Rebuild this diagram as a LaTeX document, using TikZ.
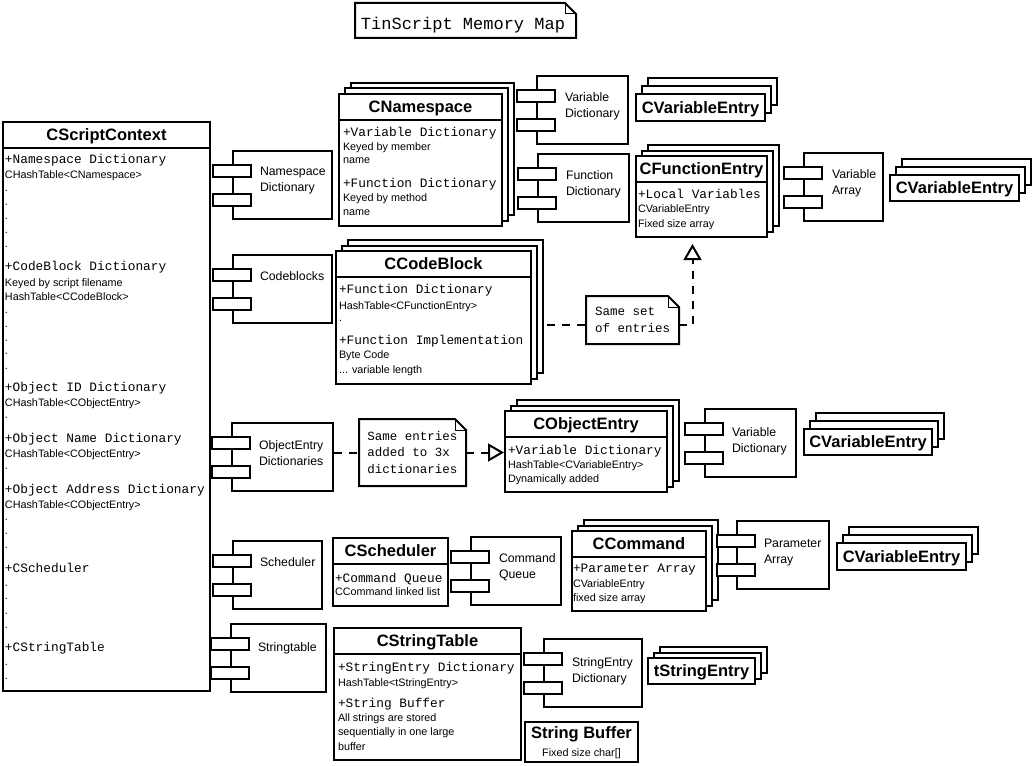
\documentclass[tikz,border=0pt]{standalone}
\usepackage{fontspec}
\setmainfont{Liberation Sans}
\setmonofont{Liberation Mono}
\usepackage{tikz}
\usetikzlibrary{arrows.meta,positioning,calc,shadows}

\begin{document}
\begin{tikzpicture}[
    x=1pt, y=-1pt,
    line width=2pt,
    box/.style={draw, fill=white, anchor=north west, inner sep=0pt},
    back/.style={draw=black, fill=white, line width=2pt},
    stack/.style={copy shadow={back, shadow xshift=12pt, shadow yshift=11pt},
                  copy shadow={back, shadow xshift=6pt, shadow yshift=5.5pt}},
    vstack/.style={copy shadow={back, shadow xshift=12pt, shadow yshift=16pt},
                   copy shadow={back, shadow xshift=6pt, shadow yshift=8pt}},
    comp/.style={box, minimum height=68pt},
    tab/.style={draw, fill=white},
    hdr/.style={font=\bfseries\fontsize{16.5}{18}\selectfont, text depth=0pt, inner sep=0pt},
    memb/.style={font=\ttfamily\fontsize{12.8}{14}\selectfont, anchor=base west, inner sep=0pt},
    detail/.style={font=\fontsize{10.8}{13}\selectfont, anchor=base west, inner sep=0pt},
    clabel/.style={font=\fontsize{12.3}{16}\selectfont, align=left, anchor=west, inner sep=0pt, outer sep=0pt},
    notebox/.style={anchor=north west, inner sep=0pt, outer sep=0pt, align=left,
                    font=\ttfamily\fontsize{12.5}{16.5}\selectfont},
    dashline/.style={dash pattern=on 8pt off 7pt},
    >={Triangle[open, length=16pt, width=18pt]}
]
    \path[use as bounding box, fill=white] (0,0) rectangle (1035,765);

    % Title note
    \node[notebox, minimum width=221pt, minimum height=35pt] (title) at (355,3) {};
    \node[font=\ttfamily\fontsize{17}{20}\selectfont, inner sep=0pt] (titlet) at (463,25.5) {TinScript Memory Map};

    % Classes
    \node[box, minimum width=207pt, minimum height=569pt] (ctx) at (2,121) {};
    \node[box, stack, minimum width=163pt, minimum height=132pt] (ns) at (338,93) {};
    \node[box, stack, minimum width=131pt, minimum height=81pt] (fe) at (635,155) {};
    \node[box, stack, minimum width=195pt, minimum height=133pt] (cb) at (335,250) {};
    \node[box, stack, minimum width=162pt, minimum height=81pt] (oe) at (504,410) {};
    \node[box, minimum width=115pt, minimum height=68pt] (sch) at (332,537) {};
    \node[box, stack, minimum width=134pt, minimum height=80pt] (cmd) at (571,530) {};
    \node[box, minimum width=187pt, minimum height=132pt] (stt) at (333,627) {};

    \foreach \c/\t in {ctx/CScriptContext, ns/CNamespace, fe/CFunctionEntry, cb/CCodeBlock,
                       oe/CObjectEntry, sch/CScheduler, cmd/CCommand, stt/CStringTable} {
        \node[hdr] (\c-t) at ($(\c.north)+(0,14)$) {\t};
        \draw ($(\c.north west)+(1,27)$) -- ($(\c.north east)+(-1,27)$);
    }

    % Entry stacks
    \node[box, vstack, hdr, minimum width=129pt, minimum height=27pt] (ve1) at (635,93) {CVariableEntry};
    \node[box, vstack, hdr, minimum width=129pt, minimum height=26pt] (ve2) at (889,174) {CVariableEntry};
    \node[box, vstack, hdr, minimum width=128pt, minimum height=26pt] (ve3) at (803,428) {CVariableEntry};
    \node[box, vstack, hdr, minimum width=129pt, minimum height=27pt] (ve4) at (836,542) {CVariableEntry};
    \node[box, stack, hdr, minimum width=107pt, minimum height=26pt] (tse) at (647,657) {tStringEntry};
    \node[box, hdr, align=center, minimum width=113pt, minimum height=40pt] (sbuf) at (524,721)
        {String Buffer\\{\mdseries\fontsize{10.8}{13}\selectfont Fixed size char[]}};

    % CScriptContext members
    \foreach \y/\t [count=\i] in {163/+Namespace Dictionary, 270/+CodeBlock Dictionary,
            391/+Object ID Dictionary, 442/+Object Name Dictionary,
            493/+Object Address Dictionary, 572/+CScheduler, 651/+CStringTable}
        \node[memb] (ctxm\i) at (4,\y) {\t};
    \foreach \y/\t [count=\i] in {178/CHashTable<CNamespace>, 286/Keyed by script filename,
            300/HashTable<CCodeBlock>, 406/CHashTable<CObjectEntry>,
            457/CHashTable<CObjectEntry>, 508/CHashTable<CObjectEntry>}
        \node[detail] (ctxd\i) at (4,\y) {\t};
    \foreach \y [count=\i] in {191,205,219,233,247,313,327,341,354,369,418,469,520,534,548,586,599,614,628,665,679}
        \node[detail] (ctxdot\i) at (4,\y) {.};

    % CNamespace members
    \node[memb] (ns1) at (342,136) {+Variable Dictionary};
    \node[detail] (ns2) at (342,150) {Keyed by member};
    \node[detail] (ns3) at (342,163) {name};
    \node[memb] (ns4) at (342,187) {+Function Dictionary};
    \node[detail] (ns5) at (342,201) {Keyed by method};
    \node[detail] (ns6) at (342,215) {name};

    % CFunctionEntry members
    \node[memb] (fe1) at (637,198) {+Local Variables};
    \node[detail] (fe2) at (637,212) {CVariableEntry};
    \node[detail] (fe3) at (637,227) {Fixed size array};

    % CCodeBlock members
    \node[memb] (cb1) at (338,293) {+Function Dictionary};
    \node[detail] (cb2) at (338,309) {HashTable<CFunctionEntry>};
    \node[detail] (cb3) at (338,321) {.};
    \node[memb] (cb4) at (338,344) {+Function Implementation};
    \node[detail] (cb5) at (338,358) {Byte Code};
    \node[detail] (cb6) at (338,373) {... variable length};

    % CObjectEntry members
    \node[memb] (oe1) at (507,454) {+Variable Dictionary};
    \node[detail] (oe2) at (507,468) {HashTable<CVariableEntry>};
    \node[detail] (oe3) at (507,482) {Dynamically added};

    % CScheduler members
    \node[memb] (sch1) at (334,582) {+Command Queue};
    \node[detail] (sch2) at (334,595) {CCommand linked list};

    % CCommand members
    \node[memb] (cmd1) at (572,572) {+Parameter Array};
    \node[detail] (cmd2) at (572,587) {CVariableEntry};
    \node[detail] (cmd3) at (572,601) {fixed size array};

    % CStringTable members
    \node[memb] (stt1) at (337,671) {+StringEntry Dictionary};
    \node[detail] (stt2) at (337,686) {HashTable<tStringEntry>};
    \node[memb] (stt3) at (337,707) {+String Buffer};
    \node[detail] (stt4) at (337,721) {All strings are stored};
    \node[detail] (stt5) at (337,735) {sequentially in one large};
    \node[detail] (stt6) at (337,750) {buffer};

    % Components
    \node[comp, minimum width=99pt] (nsdict) at (232,150) {};
    \node[comp, minimum width=99pt] (cbdict) at (232,254) {};
    \node[comp, minimum width=101pt] (oedict) at (231,422) {};
    \node[comp, minimum width=89pt] (schdict) at (232,540) {};
    \node[comp, minimum width=95pt] (stdict) at (230,623) {};
    \node[comp, minimum width=91pt] (vardict) at (536,75) {};
    \node[comp, minimum width=91pt] (fndict) at (537,153) {};
    \node[comp, minimum width=79pt] (vararr) at (803,152) {};
    \node[comp, minimum width=91pt] (objvar) at (704,408) {};
    \node[comp, minimum width=90pt] (cmdq) at (470,536) {};
    \node[comp, minimum width=92pt] (parr) at (736,520) {};
    \node[comp, minimum width=98pt] (sedict) at (543,638) {};

    \foreach \c in {nsdict, cbdict, oedict, schdict, stdict, vardict, fndict, vararr, objvar, cmdq, parr, sedict} {
        \draw[tab] ($(\c.north west)+(-19,15)$) rectangle ++(38,12);
        \draw[tab] ($(\c.north west)+(-19,44)$) rectangle ++(38,12);
    }

    \node[clabel, below right=31pt and 28pt of nsdict.north west, anchor=west] (nsdictl) {Namespace\\Dictionary};
    \node[clabel, below right=22pt and 28pt of cbdict.north west, anchor=west] (cbdictl) {Codeblocks};
    \node[clabel, below right=31.5pt and 28pt of oedict.north west, anchor=west] (oedictl) {ObjectEntry\\Dictionaries};
    \node[clabel, below right=22pt and 28pt of schdict.north west, anchor=west] (schdictl) {Scheduler};
    \node[clabel, below right=25pt and 28pt of stdict.north west, anchor=west] (stdictl) {Stringtable};
    \node[clabel, below right=31pt and 29pt of vardict.north west, anchor=west] (vardictl) {Variable\\Dictionary};
    \node[clabel, below right=31.5pt and 29pt of fndict.north west, anchor=west] (fndictl) {Function\\Dictionary};
    \node[clabel, below right=31.5pt and 29pt of vararr.north west, anchor=west] (vararrl) {Variable\\Array};
    \node[clabel, below right=33pt and 28pt of objvar.north west, anchor=west] (objvarl) {Variable\\Dictionary};
    \node[clabel, below right=31pt and 29pt of cmdq.north west, anchor=west] (cmdql) {Command\\Queue};
    \node[clabel, below right=32.5pt and 28pt of parr.north west, anchor=west] (parrl) {Parameter\\Array};
    \node[clabel, below right=33pt and 29pt of sedict.north west, anchor=west] (sedictl) {StringEntry\\Dictionary};

    % Notes
    \node[notebox, minimum width=93pt, minimum height=48pt] (nset) at (586,296) {Same set\\of entries};
    \node[notebox, minimum width=107pt, minimum height=67pt] (nobj) at (359,419) {Same entries\\added to 3x\\dictionaries};

    \foreach \n in {title, nset, nobj} {
        \draw (\n.south west) -- (\n.north west) -- ($(\n.north east)+(-11,0)$)
            -- ($(\n.north east)+(0,11)$) -- (\n.south east) -- cycle;
        \draw[line width=1pt] ($(\n.north east)+(-11,0)$) |- ($(\n.north east)+(0,11)$);
    }

    % Links
    \draw[dashline] ($(cb.east |- nset.west)+(15,5)$) -- ($(nset.west)+(0,5)$);
    \draw[dashline, ->] ($(nset.east)+(0,5)$) -| ($(fe.south)+(-9,6)$);
    \draw[dashline] (nobj.west -| oedict.east) -- (nobj.west);
    \draw[dashline, ->] (nobj.east) -- (nobj.east -| oe.west);

\end{tikzpicture}
\end{document}
